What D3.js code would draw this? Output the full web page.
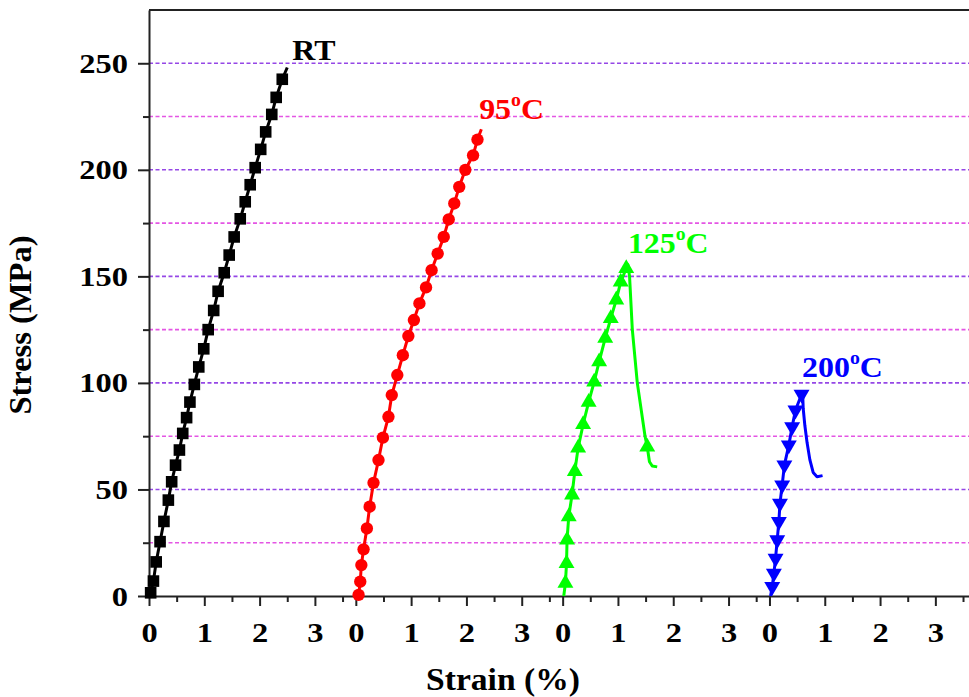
<!DOCTYPE html>
<html lang="en">
<head>
<meta charset="UTF-8">
<title>Stress-strain</title>
<script src="https://d3js.org/d3.v7.min.js"></script>
<style>
  body { margin: 0; background: #fff; }
</style>
</head>
<body>
<script>
// each curve is drawn in its own 0..3.74 strain segment
const segOffset = 3.74;
const segCount = 4;

const rtMarkers = [[0.03,1.5],[0.08,7],[0.13,16],[0.20,25.5],[0.27,35],[0.35,45],[0.41,53.6],[0.48,61.4],
  [0.55,68.5],[0.61,76.3],[0.68,83.7],[0.74,91],[0.82,99.3],[0.90,107.5],[0.99,116],[1.07,125],[1.17,134],
  [1.25,143],[1.36,151.7],[1.45,160],[1.54,168.5],[1.65,177],[1.74,185],[1.83,193],[1.92,201],[2.02,209.6],
  [2.11,217.8],[2.22,226],[2.30,234],[2.41,242.5]];
const rtLine = [[0,0], ...rtMarkers, [2.50,248]];

const c95Markers = [[0.05,0.5],[0.08,6.7],[0.10,14.5],[0.14,21.9],[0.20,31.7],[0.25,41.9],[0.32,53.1],
  [0.41,63.8],[0.49,74.3],[0.59,84.1],[0.65,94.3],[0.75,103.7],[0.85,113],[0.95,122],[1.05,129.5],
  [1.15,137.3],[1.27,144.8],[1.37,152.9],[1.48,160.7],[1.59,168.5],[1.68,176.7],[1.78,184.2],[1.87,192],
  [1.98,200],[2.12,206.8],[2.20,214.2]];
const c95Line = [[0.02,0], ...c95Markers, [2.27,219]];

const c125Markers = [[0.05,6],[0.07,15.3],[0.08,26.3],[0.11,37.2],[0.17,47.5],[0.22,58.5],[0.28,69.5],
  [0.37,80.5],[0.47,91],[0.57,100.5],[0.66,110],[0.77,121],[0.87,130.3],[0.97,139],[1.05,147.4],
  [1.15,153.7],[1.53,70]];
const c125Line = [[0.02,0], ...c125Markers.slice(0, 16), [1.18,155.5],[1.21,150],[1.26,125],[1.35,100],
  [1.49,75],[1.53,70],[1.57,63],[1.62,61],[1.71,60.6]];

const c200Markers = [[0.05,4.4],[0.08,10.6],[0.11,17.7],[0.14,26.3],[0.17,34.9],[0.19,43.5],[0.23,52.1],
  [0.27,61.4],[0.35,70.8],[0.41,79.4],[0.47,87.2],[0.58,94.6]];
const c200Line = [[0.02,0], ...c200Markers, [0.60,95.5],[0.61,88],[0.64,80],[0.68,72],[0.73,64],
  [0.79,58],[0.86,56],[0.96,56.5]];

const curves = [
  {label: "RT", deg: false, seg: 0, color: "#000000", symbol: d3.symbolSquare, size: 135, rot: 0,
   line: rtLine, markers: rtMarkers, at: [2.59, 251.4]},
  {label: "95", deg: true, seg: 1, color: "#ff0000", symbol: d3.symbolCircle, size: 120, rot: 0,
   line: c95Line, markers: c95Markers, at: [2.23, 223.7]},
  {label: "125", deg: true, seg: 2, color: "#00ff00", symbol: d3.symbolTriangle, size: 110, rot: 0,
   line: c125Line, markers: c125Markers, at: [1.18, 160.9]},
  {label: "200", deg: true, seg: 3, color: "#0000ff", symbol: d3.symbolTriangle, size: 110, rot: 180,
   line: c200Line, markers: c200Markers, at: [0.59, 102.7]}
];

const yMajor = [0, 50, 100, 150, 200, 250];
const yMinor = [25, 75, 125, 175, 225];
const xMajorLocal = [0, 1, 2, 3];
const xMinorLocal = [0.5, 1.5, 2.5, 3.5];

const W = 969, H = 697;
const FONT = "Liberation Serif";
const svg = d3.select("body").append("svg").attr("width", W).attr("height", H);

const x = d3.scaleLinear().domain([0, 15]).range([149, 149 + 15 * 55.3]);
const y = d3.scaleLinear().domain([0, 275]).range([596, 10]);
const gx = (seg, v) => x(seg * segOffset + v);

const stretch = 1.16;

// grid
svg.append("g").selectAll("line")
  .data([...yMajor.slice(1), ...yMinor])
  .enter().append("line")
  .attr("x1", x(0)).attr("x2", W)
  .attr("y1", d => y(d)).attr("y2", d => y(d))
  .attr("stroke", d => d % 50 === 0 ? "#9547e6" : "#e455e4")
  .attr("stroke-width", 1.6)
  .attr("stroke-dasharray", "4,2.5");

// frame top
svg.append("line").attr("x1", x(0)).attr("x2", W).attr("y1", y(275)).attr("y2", y(275))
  .attr("stroke", "#222").attr("stroke-width", 2);

// axes
const xMajor = [], xMinor = [];
for (let s = 0; s < segCount; s++) {
  xMajorLocal.forEach(v => xMajor.push(s * segOffset + v));
  xMinorLocal.forEach(v => xMinor.push(s * segOffset + v));
}
const localOf = g => Math.round(g - Math.floor((g + 0.01) / segOffset) * segOffset);

const xAxis = svg.append("g").attr("transform", `translate(0,${y(0)})`)
  .call(d3.axisBottom(x).tickValues(xMajor).tickSize(10).tickSizeOuter(0).tickFormat(localOf));
const xMinorAxis = svg.append("g").attr("transform", `translate(0,${y(0)})`)
  .call(d3.axisBottom(x).tickValues(xMinor).tickSize(6).tickSizeOuter(0).tickFormat(""));
const yAxis = svg.append("g").attr("transform", `translate(${x(0)},0)`)
  .call(d3.axisLeft(y).tickValues(yMajor).tickSize(11).tickSizeOuter(0));
const yMinorAxis = svg.append("g").attr("transform", `translate(${x(0)},0)`)
  .call(d3.axisLeft(y).tickValues(yMinor).tickSize(6).tickSizeOuter(0).tickFormat(""));

xMinorAxis.select(".domain").remove();
yMinorAxis.select(".domain").remove();
svg.selectAll(".domain").attr("stroke", "#222").attr("stroke-width", 2);
svg.selectAll(".tick line").attr("stroke", "#222").attr("stroke-width", 2);

xAxis.selectAll("text").attr("font-family", FONT).attr("font-weight", "bold")
  .attr("font-size", 28).attr("fill", "#000")
  .attr("y", 0).attr("dy", 0)
  .attr("transform", `translate(0,46) scale(${stretch},1)`);
yAxis.selectAll("text").attr("font-family", FONT).attr("font-weight", "bold")
  .attr("font-size", 28).attr("fill", "#000")
  .attr("x", 0).attr("dy", 0)
  .attr("transform", `translate(-21,9) scale(${stretch},1)`);

// curves
const line = d3.line();
curves.forEach(c => {
  const g = svg.append("g");
  g.append("path")
    .attr("d", line(c.line.map(p => [gx(c.seg, p[0]), y(p[1])])))
    .attr("fill", "none").attr("stroke", c.color).attr("stroke-width", 3)
    .attr("stroke-linejoin", "round");
  g.selectAll("path.m").data(c.markers).enter().append("path").attr("class", "m")
    .attr("d", d3.symbol().type(c.symbol).size(c.size))
    .attr("transform", d => `translate(${gx(c.seg, d[0])},${y(d[1])}) rotate(${c.rot})`)
    .attr("fill", c.color);

  const t = svg.append("text")
    .attr("transform", `translate(${gx(c.seg, c.at[0])},${y(c.at[1])}) scale(1.1,1)`)
    .attr("font-family", FONT).attr("font-weight", "bold")
    .attr("font-size", 29).attr("fill", c.color);
  t.append("tspan").text(c.label);
  if (c.deg) {
    t.append("tspan").attr("font-size", 18).attr("dy", -13).text("o");
    t.append("tspan").attr("dy", 13).text("C");
  }
});

// titles
svg.append("text")
  .attr("transform", `translate(503,690) scale(1.05,1)`)
  .attr("text-anchor", "middle").attr("font-family", FONT).attr("font-weight", "bold")
  .attr("font-size", 32).attr("fill", "#000")
  .text("Strain (%)");
svg.append("text")
  .attr("transform", `translate(31,325) rotate(-90) scale(1.05,1)`)
  .attr("text-anchor", "middle").attr("font-family", FONT).attr("font-weight", "bold")
  .attr("font-size", 31).attr("fill", "#000")
  .text("Stress (MPa)");
</script>
</body>
</html>
